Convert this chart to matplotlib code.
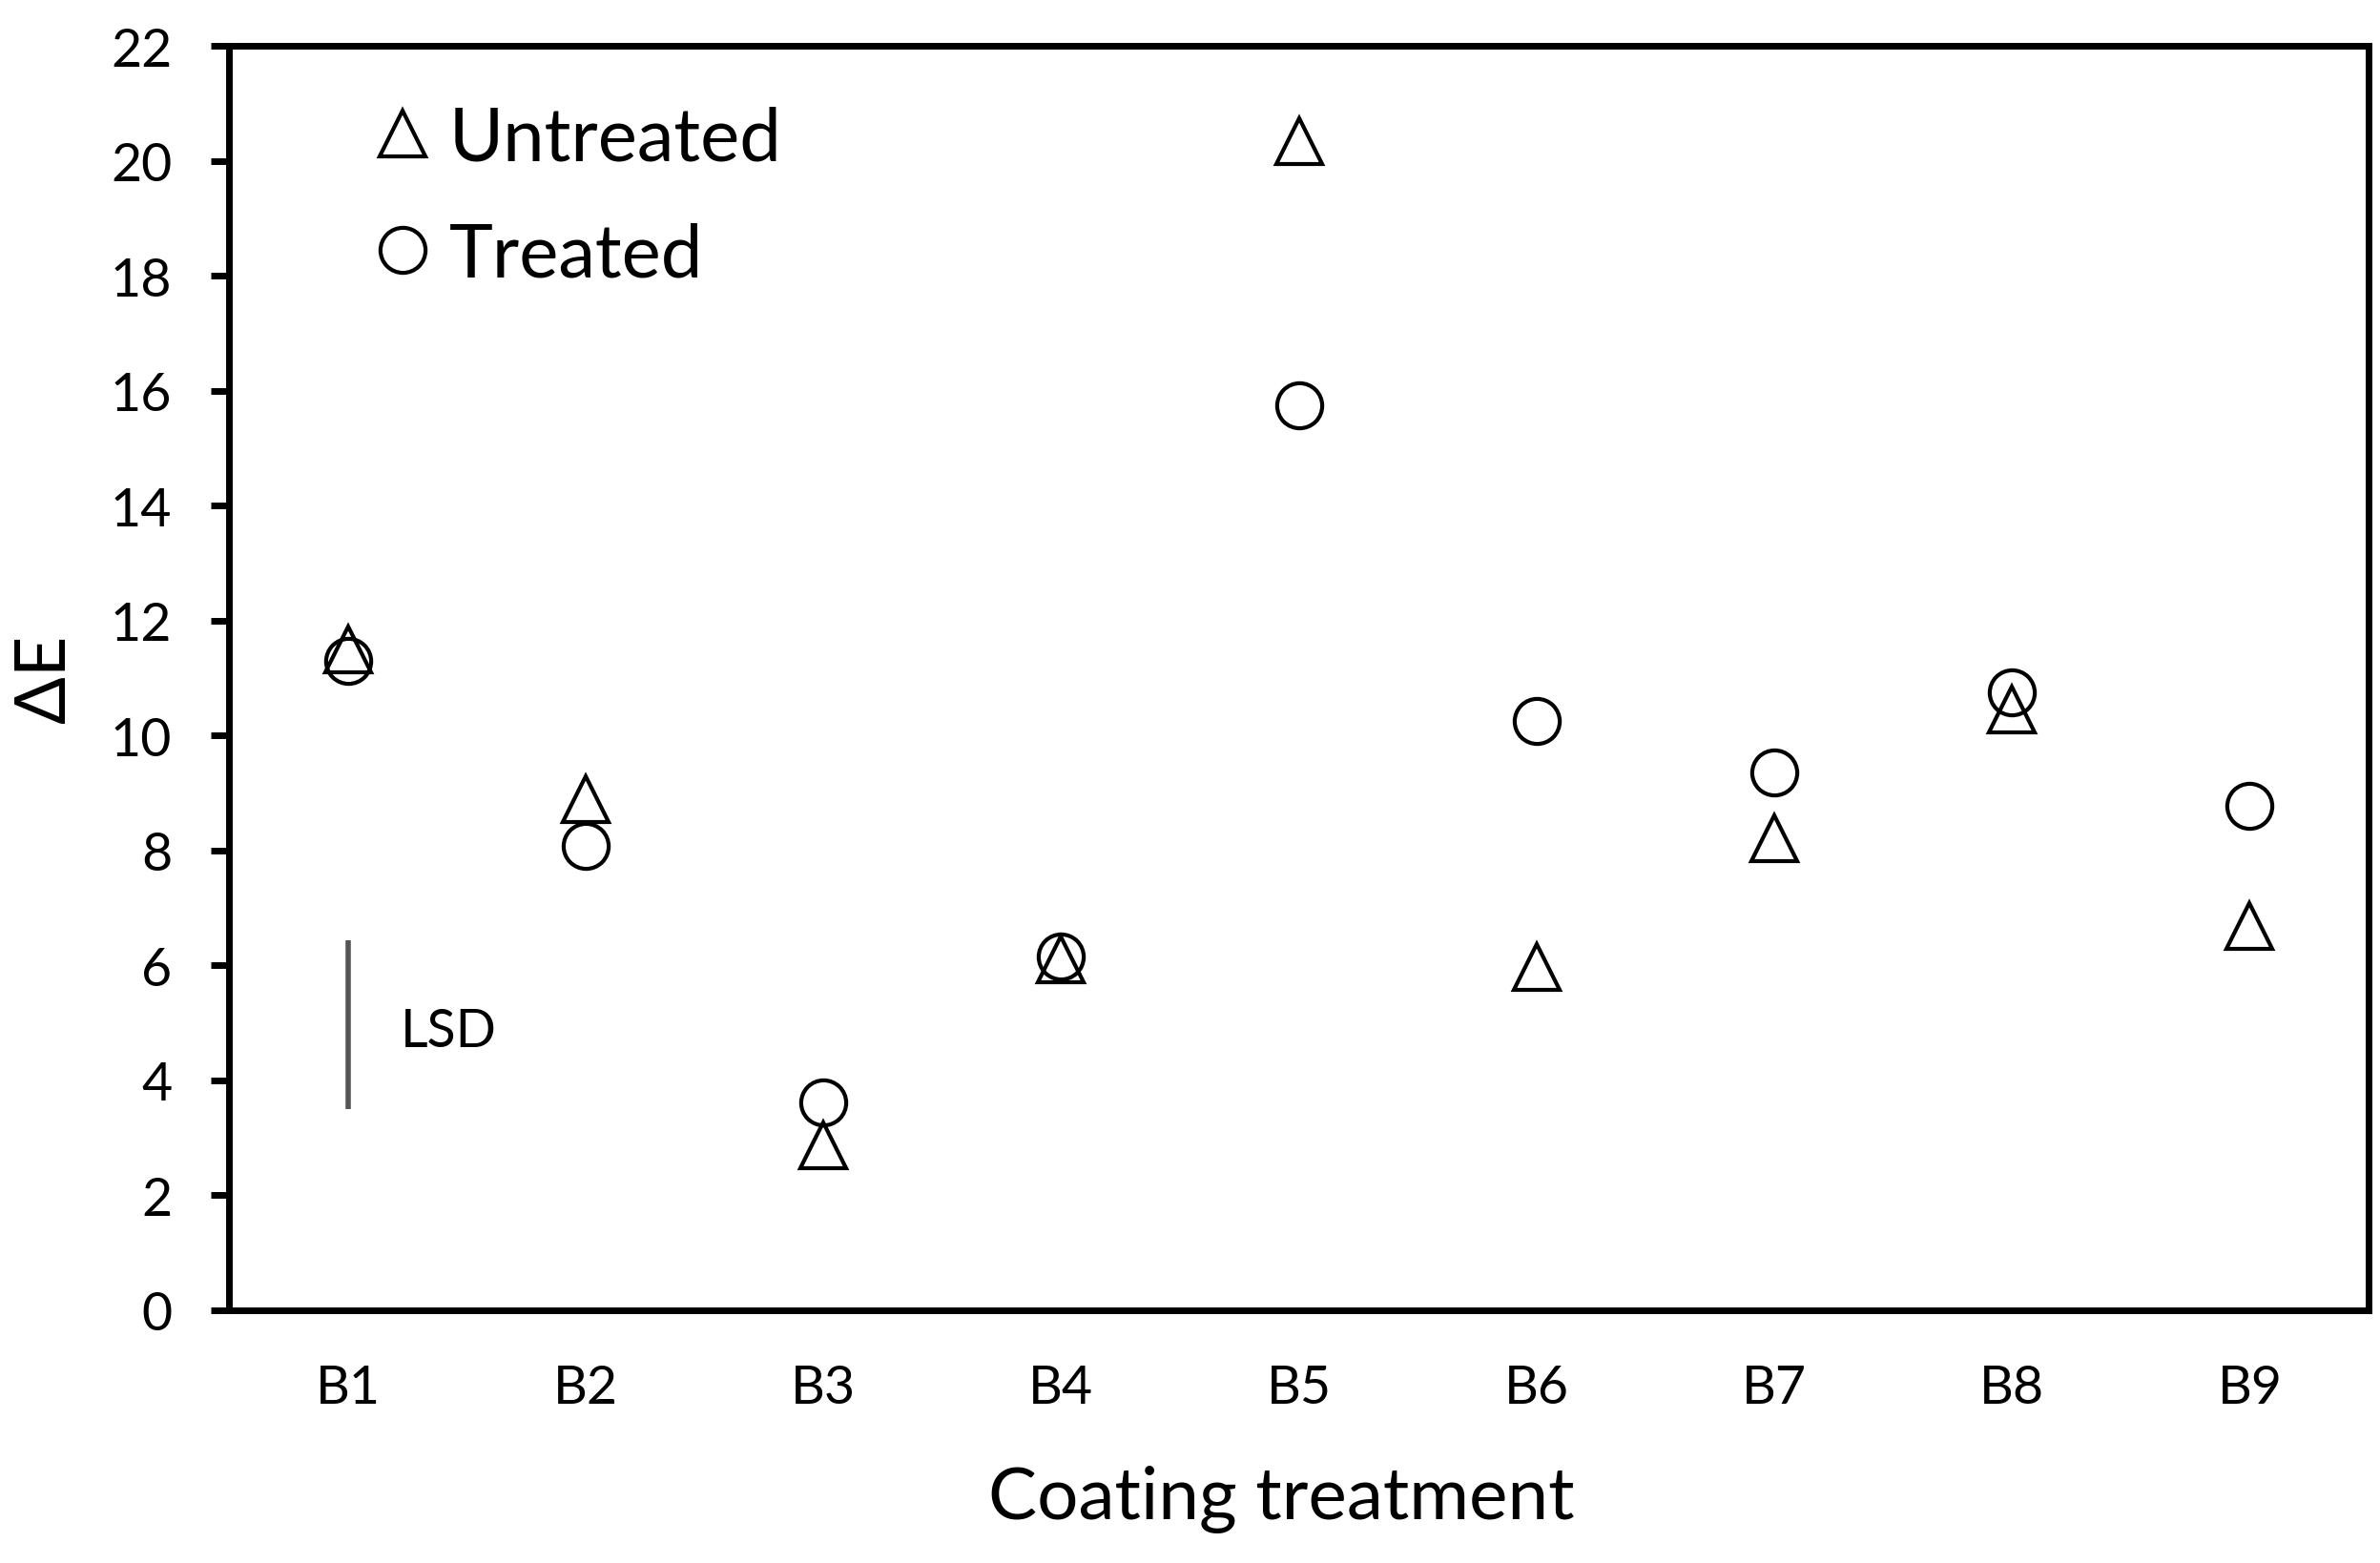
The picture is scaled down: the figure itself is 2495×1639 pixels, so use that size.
import matplotlib
matplotlib.use('Agg')
import matplotlib.pyplot as plt
import numpy as np

plt.rcParams['font.family'] = ['Lato', 'DejaVu Sans']

# data
treatments = ['B1', 'B2', 'B3', 'B4', 'B5', 'B6', 'B7', 'B8', 'B9']
untreated = [11.5, 8.9, 2.87, 6.1, 20.34, 5.97, 8.22, 10.46, 6.68]
treated = [11.3, 8.08, 3.61, 6.15, 15.74, 10.25, 9.35, 10.75, 8.77]
lsd_low, lsd_high = 3.5, 6.44

ind = np.arange(len(treatments))

fig = plt.figure(figsize=(24.95, 16.4), dpi=100)
ax = fig.add_axes([0.0962, 0.1616, 0.899, 0.8085])

mk = dict(linestyle='none', markersize=34, markeredgewidth=3,
          markerfacecolor='none', markeredgecolor='black')
h1, = ax.plot(ind, untreated, marker='^', label='Untreated', **mk)
h2, = ax.plot(ind, treated, marker='o', label='Treated', **mk)

# LSD bar
ax.vlines(ind[0], lsd_low, lsd_high, color='#555555', linewidth=4)
ax.text(ind[0] + 0.22, 4.85, 'LSD', fontsize=40, ha='left', va='center')

ax.set_xlim(-0.5, 8.5)
ax.set_ylim(0, 22)
ax.set_yticks(np.arange(0, 23, 2))
ax.set_xticks(ind)
ax.set_xticklabels(treatments)

for s in ax.spines.values():
    s.set_linewidth(5)
ax.tick_params(axis='y', direction='out', length=14, width=5, pad=29, labelsize=40)
ax.tick_params(axis='x', length=0, pad=40, labelsize=40)

ax.set_ylabel('ΔE', fontsize=53)
ax.yaxis.set_label_coords(-0.071, 0.5)
ax.set_xlabel('Coating treatment', fontsize=55)
ax.xaxis.set_label_coords(0.492, -0.122)

ax.legend(handles=[h1, h2], loc='upper left', bbox_to_anchor=(0.0678, 0.953),
          frameon=False, fontsize=56, handlelength=0.76, handletextpad=0.25,
          labelspacing=0.66, borderpad=0, borderaxespad=0)

fig.savefig('out.png', dpi=100)
